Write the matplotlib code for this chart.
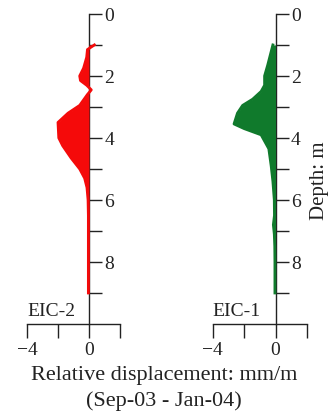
import matplotlib.pyplot as plt
from matplotlib.ticker import FixedLocator, NullFormatter

plt.rcParams['font.family'] = ['Liberation Serif', 'DejaVu Serif']

# EIC-2 (red) profile: depth in m, relative displacement in mm/m
eic2_depth = [1.0, 1.15, 1.4, 1.75, 2.0, 2.15, 2.3, 2.45, 2.6, 2.95, 3.2, 3.5,
              4.0, 4.25, 4.65, 5.0, 5.3, 5.6, 6.0, 6.5, 7.0, 7.5, 8.0, 8.5, 9.0]
eic2_disp = [0.35, -0.1, -0.15, -0.35, -0.6, -0.55, -0.15, 0.15, -0.1, -0.6, -1.35, -2.0,
             -1.95, -1.7, -1.15, -0.6, -0.28, -0.13, -0.06, -0.04, -0.04, -0.04, -0.04, -0.04, -0.04]

# EIC-1 (green) profile
eic1_depth = [1.0, 1.65, 2.0, 2.3, 2.5, 2.75, 2.95, 3.2, 3.55, 3.7, 3.9, 4.35,
              4.9, 5.4, 6.0, 6.5, 6.8, 7.1, 7.5, 8.0, 8.5, 9.0]
eic1_disp = [-0.17, -0.5, -0.7, -0.7, -0.92, -1.46, -2.1, -2.43, -2.65, -2.0, -0.92, -0.43,
             -0.28, -0.17, -0.08, -0.07, -0.14, -0.08, -0.05, -0.04, -0.04, -0.04]

x_ticks = [-4, -2, 0, 2]
x_labels = ['\u22124', '', '0', '']
y_major = [0, 2, 4, 6, 8]
y_minor = [1, 3, 5, 7, 9]

ink = '#222222'

fig = plt.figure(figsize=(3.28, 4.14), dpi=100)
ax_l = fig.add_axes([0.0823, 0.215, 0.2835, 0.749])
ax_r = fig.add_axes([0.649, 0.215, 0.2866, 0.749])

panels = [(ax_l, eic2_depth, eic2_disp, '#f50a0a', 'EIC-2'),
          (ax_r, eic1_depth, eic1_disp, '#107a2c', 'EIC-1')]

for ax, depth, disp, col, name in panels:
    ax.fill_betweenx(depth, disp, 0, color=col, linewidth=0, zorder=3)
    ax.plot(disp, depth, color=col, linewidth=2.0, zorder=3)
    ax.set_xlim(-4, 2)
    ax.set_ylim(10, 0)

    # spines: vertical axis at x = 0, horizontal at the bottom
    ax.spines['left'].set_visible(False)
    ax.spines['top'].set_visible(False)
    ax.spines['right'].set_position(('data', 0))
    ax.spines['right'].set_color(ink)
    ax.spines['bottom'].set_color(ink)
    ax.spines['right'].set_linewidth(1.0)
    ax.spines['bottom'].set_linewidth(1.0)
    ax.set_zorder(1)

    ax.yaxis.tick_right()
    ax.set_yticks(y_major)
    ax.set_yticklabels([str(v) for v in y_major])
    ax.yaxis.set_minor_locator(FixedLocator(y_minor))
    ax.yaxis.set_minor_formatter(NullFormatter())
    ax.tick_params(axis='y', which='both', direction='out', length=9, width=1.0,
                   color=ink, labelsize=14, pad=2, labelcolor=ink)

    ax.set_xticks(x_ticks)
    ax.set_xticklabels(x_labels)
    ax.tick_params(axis='x', direction='out', length=10, width=1.0, color=ink,
                   labelsize=14, pad=2, labelcolor=ink)

    ax.patch.set_alpha(0)
    ax.text(-4, 9.85, name, ha='left', va='bottom', fontsize=14, color=ink)

ax_r.yaxis.set_label_position('right')
ax_r.set_ylabel('Depth: m', fontsize=15, color=ink)
ax_r.yaxis.set_label_coords(1.03, 0.465)

fig.text(0.5, 0.092, 'Relative displacement: mm/m', ha='center', va='center',
         fontsize=16, color=ink)
fig.text(0.5, 0.032, '(Sep-03 - Jan-04)', ha='center', va='center',
         fontsize=16, color=ink)

fig.savefig('out.png', dpi=100)
